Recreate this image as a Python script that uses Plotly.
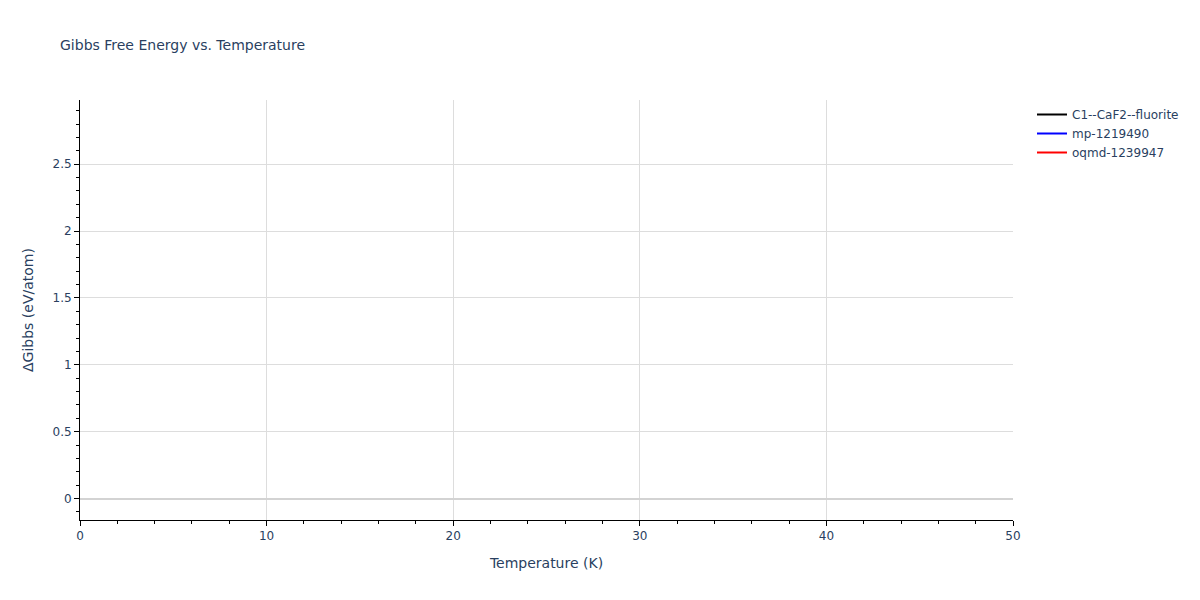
import plotly.graph_objects as go

# Series names; the points have no values inside the visible window
names = ["C1--CaF2--fluorite", "mp-1219490", "oqmd-1239947"]
colors = ["black", "blue", "red"]
temps = [[0, 50], [0, 50], [0, 50]]
gibbs = [[None, None], [None, None], [None, None]]

fig = go.Figure()
for n, c, t, g in zip(names, colors, temps, gibbs):
    fig.add_trace(go.Scatter(x=t, y=g, mode="lines", name=n, line=dict(color=c)))

axis_style = dict(
    showline=True, linecolor="black", linewidth=1,
    ticks="outside", tickcolor="black",
    showgrid=True, gridcolor="#dddddd",
    zeroline=True, zerolinecolor="lightgrey", zerolinewidth=2,
)

fig.update_layout(
    font=dict(family="Verdana, DejaVu Sans, sans-serif"),
    title=dict(text="Gibbs Free Energy vs. Temperature", font=dict(size=14),
               x=52 / 1184, xanchor="left", y=1 - 37 / 584, yanchor="middle"),
    plot_bgcolor="white",
    paper_bgcolor="white",
    width=1184, height=584,
    margin=dict(l=72, r=179, t=92, b=72),
    legend=dict(xref="container", yref="container", x=1024 / 1184, xanchor="left",
                y=1 - 92 / 584, yanchor="top"),
    xaxis=dict(title="Temperature (K)", range=[0, 50], dtick=10,
               minor=dict(ticks="outside", dtick=2, tickcolor="black", showgrid=False),
               **axis_style),
    yaxis=dict(title="ΔGibbs (eV/atom)", range=[-0.16, 2.98], dtick=0.5,
               minor=dict(ticks="outside", dtick=0.1, tickcolor="black", showgrid=False),
               **axis_style),
    showlegend=True,
)

fig.write_html("out.html")
